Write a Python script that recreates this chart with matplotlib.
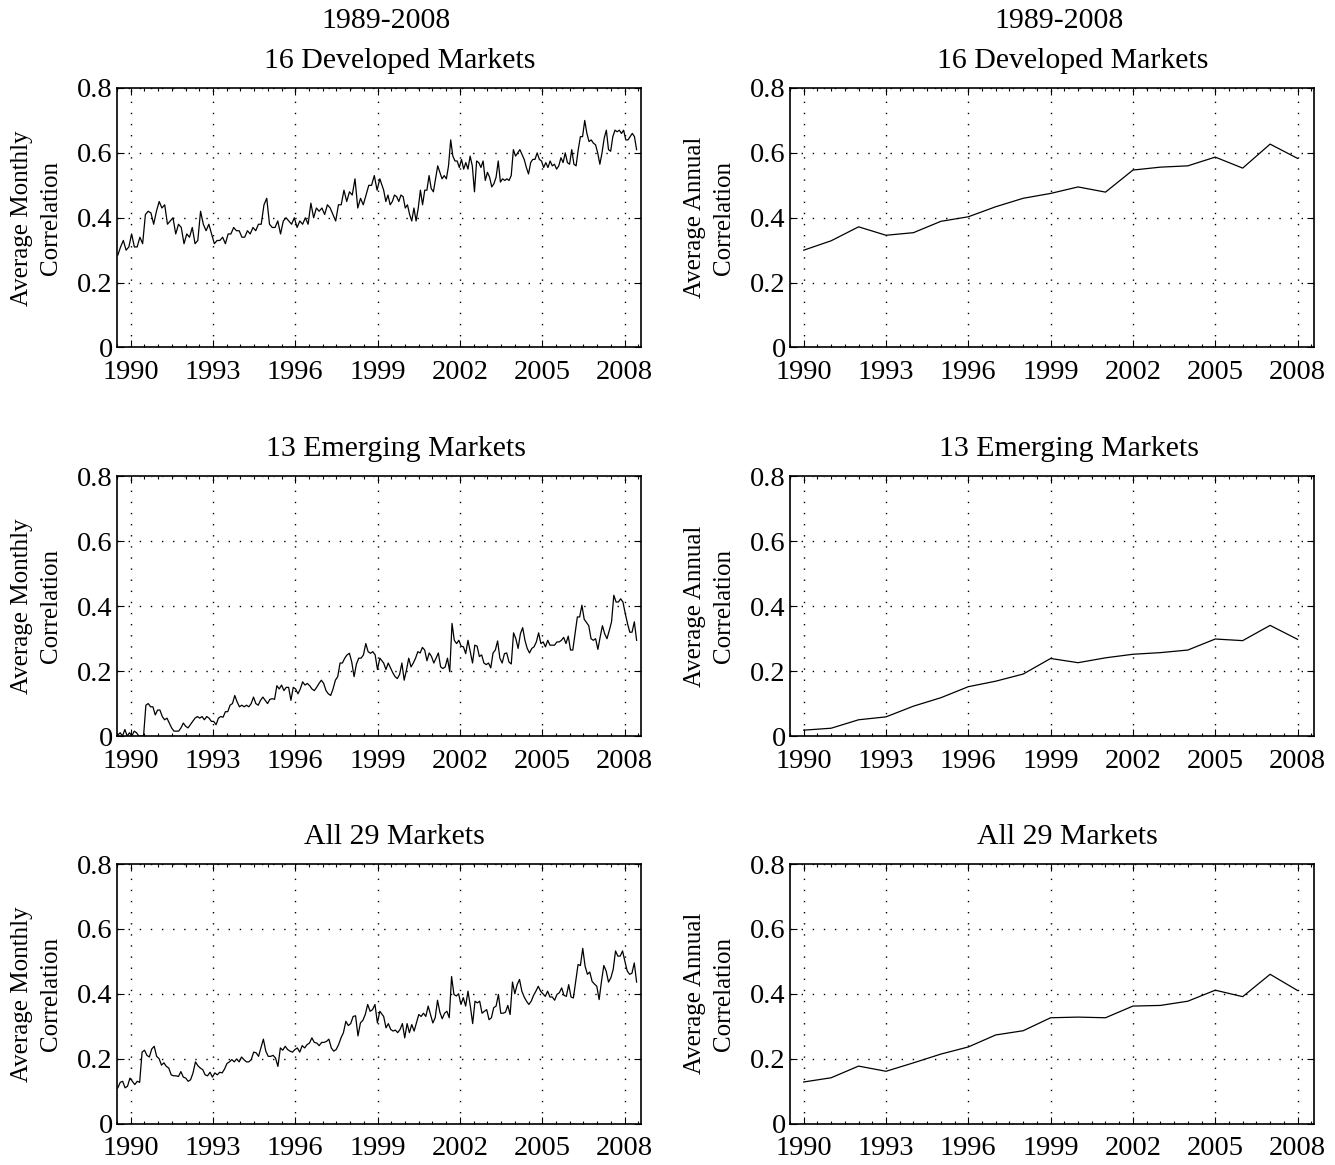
import matplotlib.pyplot as plt
from matplotlib.ticker import MultipleLocator
import numpy as np

plt.rcParams['font.family'] = ['Liberation Serif', 'DejaVu Serif']

# monthly average correlations, split at early 1999
dev_monthly_early = [
    0.285, 0.31, 0.33, 0.30, 0.31, 0.35, 0.31, 0.31, 0.34, 0.32, 0.41, 0.42, 0.415, 0.38, 0.42, 0.45,
    0.43, 0.44, 0.38, 0.39, 0.40, 0.35, 0.38, 0.37, 0.32, 0.35, 0.34, 0.37, 0.32, 0.33, 0.42, 0.38,
    0.36, 0.38, 0.35, 0.32, 0.33, 0.33, 0.34, 0.32, 0.35, 0.35, 0.37, 0.36, 0.36, 0.34, 0.34, 0.36,
    0.35, 0.37, 0.36, 0.38, 0.38, 0.44, 0.46, 0.38, 0.37, 0.37, 0.39, 0.35, 0.39, 0.40, 0.39, 0.38,
    0.40, 0.37, 0.39, 0.38, 0.40, 0.38, 0.445, 0.40, 0.43, 0.42, 0.43, 0.41, 0.44, 0.43, 0.41, 0.39,
    0.44, 0.44, 0.485, 0.45, 0.48, 0.47, 0.52, 0.43, 0.46, 0.44, 0.47, 0.50, 0.50, 0.53, 0.485, 0.52,
]
dev_monthly_late = [
    0.485, 0.45, 0.47, 0.44, 0.45, 0.47, 0.465, 0.45, 0.47, 0.465, 0.43, 0.44, 0.41, 0.39, 0.43, 0.39,
    0.43, 0.485, 0.44, 0.485, 0.485, 0.53, 0.49, 0.48, 0.52, 0.56, 0.54, 0.52, 0.53, 0.52, 0.56, 0.64,
    0.59, 0.575, 0.575, 0.555, 0.58, 0.55, 0.57, 0.55, 0.59, 0.56, 0.48, 0.575, 0.57, 0.555, 0.575, 0.515,
    0.54, 0.525, 0.495, 0.505, 0.525, 0.575, 0.51, 0.52, 0.515, 0.52, 0.515, 0.53, 0.61, 0.59, 0.60, 0.61,
    0.595, 0.58, 0.555, 0.535, 0.57, 0.58, 0.58, 0.60, 0.58, 0.575, 0.555, 0.57, 0.555, 0.575, 0.56, 0.565,
    0.55, 0.56, 0.585, 0.57, 0.60, 0.57, 0.565, 0.61, 0.565, 0.56, 0.61, 0.65, 0.65, 0.70, 0.66, 0.635,
    0.64, 0.63, 0.625, 0.60, 0.565, 0.60, 0.645, 0.67, 0.61, 0.605, 0.65, 0.67, 0.665, 0.67, 0.66, 0.67,
    0.64, 0.64, 0.65, 0.66, 0.65, 0.61,
]
emg_monthly_early = [
    0.003, 0.01, 0.0, 0.02, 0.0, 0.01, 0.0, 0.015, 0.01, 0.0, 0.0, 0.0, 0.095, 0.10, 0.09, 0.09,
    0.065, 0.08, 0.08, 0.06, 0.05, 0.055, 0.04, 0.025, 0.015, 0.015, 0.015, 0.025, 0.04, 0.03, 0.025, 0.035,
    0.045, 0.055, 0.06, 0.055, 0.06, 0.05, 0.06, 0.055, 0.045, 0.045, 0.035, 0.055, 0.06, 0.058, 0.075, 0.075,
    0.095, 0.10, 0.125, 0.105, 0.09, 0.095, 0.09, 0.095, 0.09, 0.10, 0.12, 0.10, 0.095, 0.11, 0.12, 0.11,
    0.10, 0.113, 0.115, 0.113, 0.155, 0.145, 0.157, 0.14, 0.15, 0.15, 0.11, 0.15, 0.145, 0.13, 0.145, 0.167,
    0.157, 0.162, 0.155, 0.145, 0.14, 0.15, 0.162, 0.172, 0.162, 0.14, 0.13, 0.125, 0.145, 0.172, 0.183, 0.225,
    0.225, 0.24, 0.25, 0.255, 0.228, 0.183, 0.222, 0.24, 0.24, 0.25, 0.285, 0.26, 0.255, 0.26, 0.25, 0.205,
    0.24,
]
emg_monthly_late = [
    0.225, 0.205, 0.225, 0.21, 0.195, 0.183, 0.177, 0.19, 0.225, 0.172, 0.203, 0.24, 0.213, 0.225, 0.24,
    0.26, 0.256, 0.273, 0.265, 0.232, 0.256, 0.245, 0.225, 0.24, 0.256, 0.213, 0.208, 0.213, 0.24, 0.198, 0.347,
    0.295, 0.285, 0.295, 0.277, 0.275, 0.254, 0.295, 0.26, 0.225, 0.28, 0.277, 0.245, 0.25, 0.225, 0.22, 0.225,
    0.21, 0.256, 0.265, 0.293, 0.24, 0.225, 0.254, 0.256, 0.228, 0.222, 0.318, 0.30, 0.27, 0.315, 0.334, 0.295,
    0.27, 0.256, 0.27, 0.275, 0.29, 0.318, 0.285, 0.29, 0.275, 0.295, 0.28, 0.28, 0.28, 0.29, 0.29, 0.295,
    0.304, 0.285, 0.308, 0.265, 0.265, 0.315, 0.367, 0.367, 0.403, 0.36, 0.35, 0.34, 0.30, 0.295, 0.30, 0.267,
    0.305, 0.34, 0.315, 0.30, 0.325, 0.352, 0.434, 0.413, 0.413, 0.423, 0.413, 0.378, 0.347, 0.32, 0.32, 0.352,
    0.295,
]
all_monthly_early = [
    0.11, 0.127, 0.13, 0.11, 0.115, 0.14, 0.13, 0.12, 0.13, 0.127, 0.22, 0.226, 0.21, 0.205, 0.23, 0.238,
    0.207, 0.20, 0.18, 0.187, 0.176, 0.171, 0.15, 0.147, 0.147, 0.145, 0.16, 0.143, 0.14, 0.13, 0.135, 0.156,
    0.19, 0.178, 0.171, 0.166, 0.15, 0.147, 0.158, 0.143, 0.156, 0.15, 0.158, 0.156, 0.168, 0.185, 0.19, 0.197,
    0.19, 0.199, 0.19, 0.205, 0.197, 0.19, 0.19, 0.197, 0.22, 0.218, 0.207, 0.233, 0.26, 0.223, 0.207, 0.207,
    0.21, 0.202, 0.176, 0.233, 0.226, 0.238, 0.228, 0.223, 0.22, 0.228, 0.233, 0.22, 0.24, 0.233, 0.243, 0.248,
    0.264, 0.25, 0.248, 0.24, 0.25, 0.25, 0.253, 0.26, 0.233, 0.223, 0.228, 0.243, 0.264, 0.28, 0.315, 0.302,
    0.308, 0.33, 0.332, 0.27, 0.31, 0.318, 0.336, 0.367, 0.346, 0.351, 0.367, 0.31, 0.346,
]
all_monthly_late = [
    0.33, 0.295, 0.308, 0.29, 0.285, 0.288, 0.28, 0.29, 0.308, 0.264, 0.308, 0.28, 0.305, 0.285, 0.31, 0.336,
    0.33, 0.34, 0.33, 0.362, 0.336, 0.31, 0.326, 0.38, 0.343, 0.323, 0.34, 0.346, 0.326, 0.453, 0.398, 0.393,
    0.40, 0.367, 0.388, 0.362, 0.408, 0.362, 0.308, 0.377, 0.372, 0.377, 0.34, 0.346, 0.351, 0.32, 0.326, 0.357,
    0.362, 0.398, 0.34, 0.34, 0.343, 0.364, 0.336, 0.436, 0.40, 0.428, 0.444, 0.408, 0.39, 0.377, 0.367, 0.377,
    0.395, 0.408, 0.423, 0.408, 0.40, 0.392, 0.408, 0.39, 0.39, 0.38, 0.398, 0.403, 0.418, 0.395, 0.392, 0.428,
    0.39, 0.387, 0.438, 0.49, 0.487, 0.54, 0.485, 0.46, 0.467, 0.438, 0.43, 0.423, 0.382, 0.438, 0.487, 0.47,
    0.436, 0.449, 0.475, 0.532, 0.516, 0.516, 0.532, 0.50, 0.47, 0.46, 0.463, 0.495, 0.436,
]
# date span (decimal years) covered by each half
early_span = (1989.53, 1999.08)
late_span = (1999.22, 2008.44)

# annual average correlations
years = list(range(1990, 2009))
dev_annual = [0.300, 0.329, 0.372, 0.346, 0.354, 0.389, 0.403, 0.434, 0.460, 0.475,
              0.495, 0.479, 0.547, 0.556, 0.560, 0.587, 0.553, 0.627, 0.583]
emg_annual = [0.018, 0.024, 0.050, 0.059, 0.092, 0.118, 0.152, 0.169, 0.191, 0.239,
              0.226, 0.241, 0.252, 0.257, 0.265, 0.299, 0.294, 0.341, 0.298]
all_annual = [0.128, 0.141, 0.177, 0.161, 0.187, 0.214, 0.236, 0.273, 0.286, 0.326,
              0.328, 0.326, 0.362, 0.364, 0.377, 0.411, 0.391, 0.460, 0.410]

period_label = '1989-2008'
titles = ['16 Developed Markets', '13 Emerging Markets', 'All 29 Markets']
xtick_years = [1990, 1993, 1996, 1999, 2002, 2005, 2008]
yticks = [0, 0.2, 0.4, 0.6, 0.8]
ytick_labels = ['0', '0.2', '0.4', '0.6', '0.8']

TICK_FS = 20.5
LABEL_FS = 18
TITLE_FS = 21.5

fig = plt.figure(figsize=(13.35, 11.65), dpi=100)

W, H = 1335.0, 1165.0
col_left = [117 / W, 790 / W]
col_w = 524 / W
row_bottom = [1 - 347.5 / H, 1 - 736 / H, 1 - 1123.5 / H]
row_h = 259.5 / H
# titles sit a little right of centre, as the wide-tracked originals do
title_shift = [15, 12, 11]   # points


def style_axes(ax):
    ax.set_xlim(1989.5, 2008.6)
    ax.set_ylim(0, 0.8)
    ax.set_xticks(xtick_years)
    ax.set_xticklabels([str(y) for y in xtick_years], fontsize=TICK_FS)
    ax.set_yticks(yticks)
    ax.set_yticklabels(ytick_labels, fontsize=TICK_FS)
    ax.xaxis.set_minor_locator(MultipleLocator(0.5))
    ax.tick_params(which='both', direction='in', top=True, right=True, width=0.8)
    ax.tick_params(which='major', length=5)
    ax.tick_params(axis='x', which='major', pad=9)
    ax.tick_params(axis='y', which='major', pad=3)
    ax.tick_params(which='minor', length=2)
    ax.grid(True, which='major', color='black', linestyle=(0, (1, 7)), linewidth=1.0)
    for s in ax.spines.values():
        s.set_linewidth(1.2)


def add_titles(ax, r):
    ax.annotate(titles[r], xy=(0.5, 1.0), xycoords='axes fraction',
                xytext=(title_shift[r], 19.5), textcoords='offset points',
                ha='center', va='center', fontsize=TITLE_FS)
    if r == 0:
        ax.annotate(period_label, xy=(0.5, 1.0), xycoords='axes fraction',
                    xytext=(5, 48.5), textcoords='offset points',
                    ha='center', va='center', fontsize=TITLE_FS)


def month_dates(early, late):
    return np.concatenate([np.linspace(early_span[0], early_span[1], len(early)),
                           np.linspace(late_span[0], late_span[1], len(late))])


monthly = [(dev_monthly_early, dev_monthly_late),
           (emg_monthly_early, emg_monthly_late),
           (all_monthly_early, all_monthly_late)]
annual = [dev_annual, emg_annual, all_annual]

for r in range(3):
    # left column: monthly
    ax = fig.add_axes([col_left[0], row_bottom[r], col_w, row_h])
    early, late = monthly[r]
    ax.plot(month_dates(early, late), early + late, color='black', linewidth=0.9)
    style_axes(ax)
    ax.set_ylabel('Average Monthly\nCorrelation', fontsize=LABEL_FS, linespacing=1.4, labelpad=11)
    add_titles(ax, r)

    # right column: annual
    ax = fig.add_axes([col_left[1], row_bottom[r], col_w, row_h])
    ax.plot(years, annual[r], color='black', linewidth=0.9)
    style_axes(ax)
    ax.set_ylabel('Average Annual\nCorrelation', fontsize=LABEL_FS, linespacing=1.4, labelpad=11)
    add_titles(ax, r)

fig.savefig('out.png', dpi=100)
